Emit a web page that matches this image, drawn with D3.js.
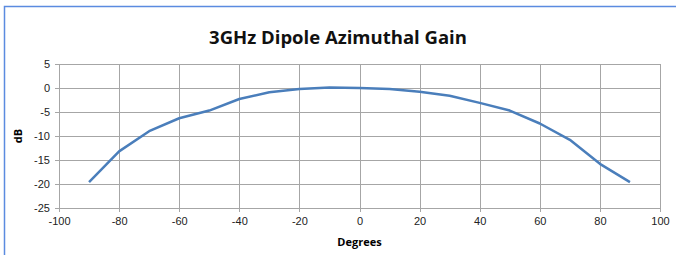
<!DOCTYPE html>
<meta charset="utf-8">
<body style="margin:0;background:#fff">
<script src="https://d3js.org/d3.v7.min.js"></script>
<style>
  body { font-family: "Open Sans", sans-serif; }
  .tick text { font-size: 11px; fill: #222; }
</style>
<script>
// azimuth angle (degrees) and measured gain (dB)
var degrees = [-90, -80, -70, -60, -50, -40, -30, -20, -10, 0, 10, 20, 30, 40, 50, 60, 70, 80, 90];
var gain = [-19.6, -13.2, -9.0, -6.3, -4.7, -2.3, -0.9, -0.2, 0.1, 0, -0.2, -0.8, -1.6, -3.1, -4.7, -7.4, -10.8, -15.8, -19.6];
var xTicks = [-100, -80, -60, -40, -20, 0, 20, 40, 60, 80, 100];
var yTicks = [5, 0, -5, -10, -15, -20, -25];

var W = 676, H = 255;
var margin = {top: 64, right: 16, bottom: 47, left: 59};
var width = W - margin.left - margin.right,
    height = H - margin.top - margin.bottom;

var svg = d3.select("body").append("svg")
    .attr("width", W)
    .attr("height", H);

// chart frame
svg.append("rect")
    .attr("x", 4.5).attr("y", 6.5)
    .attr("width", W).attr("height", H)
    .attr("fill", "none")
    .attr("stroke", "#5b8be0")
    .attr("stroke-width", 1.5);

svg.append("text")
    .attr("x", 338).attr("y", 44)
    .attr("text-anchor", "middle")
    .style("font-size", "18.5px")
    .style("font-weight", "bold")
    .attr("fill", "#111")
    .text("3GHz Dipole Azimuthal Gain");

var g = svg.append("g")
    .attr("transform", "translate(" + margin.left + "," + margin.top + ")");

var x = d3.scaleLinear().domain([-100, 100]).range([0, width]);
var y = d3.scaleLinear().domain([-25, 5]).range([height, 0]);

// plain hyphen for negatives, like the original
var fmt = function(d) { return String(d); };

// gridlines
g.append("g").selectAll("line.h")
  .data(yTicks).enter().append("line")
    .attr("x1", -4).attr("x2", width)
    .attr("y1", function(d) { return Math.round(y(d)) + 0.5; })
    .attr("y2", function(d) { return Math.round(y(d)) + 0.5; })
    .attr("stroke", "#a6a6a6");

g.append("g").selectAll("line.v")
  .data(xTicks).enter().append("line")
    .attr("y1", 0).attr("y2", height + 4)
    .attr("x1", function(d) { return Math.round(x(d)) + 0.5; })
    .attr("x2", function(d) { return Math.round(x(d)) + 0.5; })
    .attr("stroke", "#a6a6a6");

var yAxis = g.append("g")
    .call(d3.axisLeft(y).tickValues(yTicks).tickFormat(fmt).tickSize(0).tickPadding(9));
yAxis.select(".domain").remove();

var xAxis = g.append("g")
    .attr("transform", "translate(0," + height + ")")
    .call(d3.axisBottom(x).tickValues(xTicks).tickFormat(fmt).tickSize(0).tickPadding(9));
xAxis.select(".domain").remove();
xAxis.selectAll("text").attr("dy", "0.71em");

svg.append("text")
    .attr("transform", "translate(22," + (margin.top + y(-10)) + ") rotate(-90)")
    .attr("text-anchor", "middle")
    .style("font-size", "11px")
    .style("font-weight", "bold")
    .text("dB");

svg.append("text")
    .attr("x", margin.left + x(0)).attr("y", 246)
    .attr("text-anchor", "middle")
    .style("font-size", "11px")
    .style("font-weight", "bold")
    .text("Degrees");

var line = d3.line()
    .x(function(d, i) { return x(degrees[i]); })
    .y(function(d) { return y(d); });

g.append("path")
    .datum(gain)
    .attr("d", line)
    .attr("fill", "none")
    .attr("stroke", "#4a7ebb")
    .attr("stroke-width", 2.5)
    .attr("stroke-linejoin", "round");
</script>
</body>
